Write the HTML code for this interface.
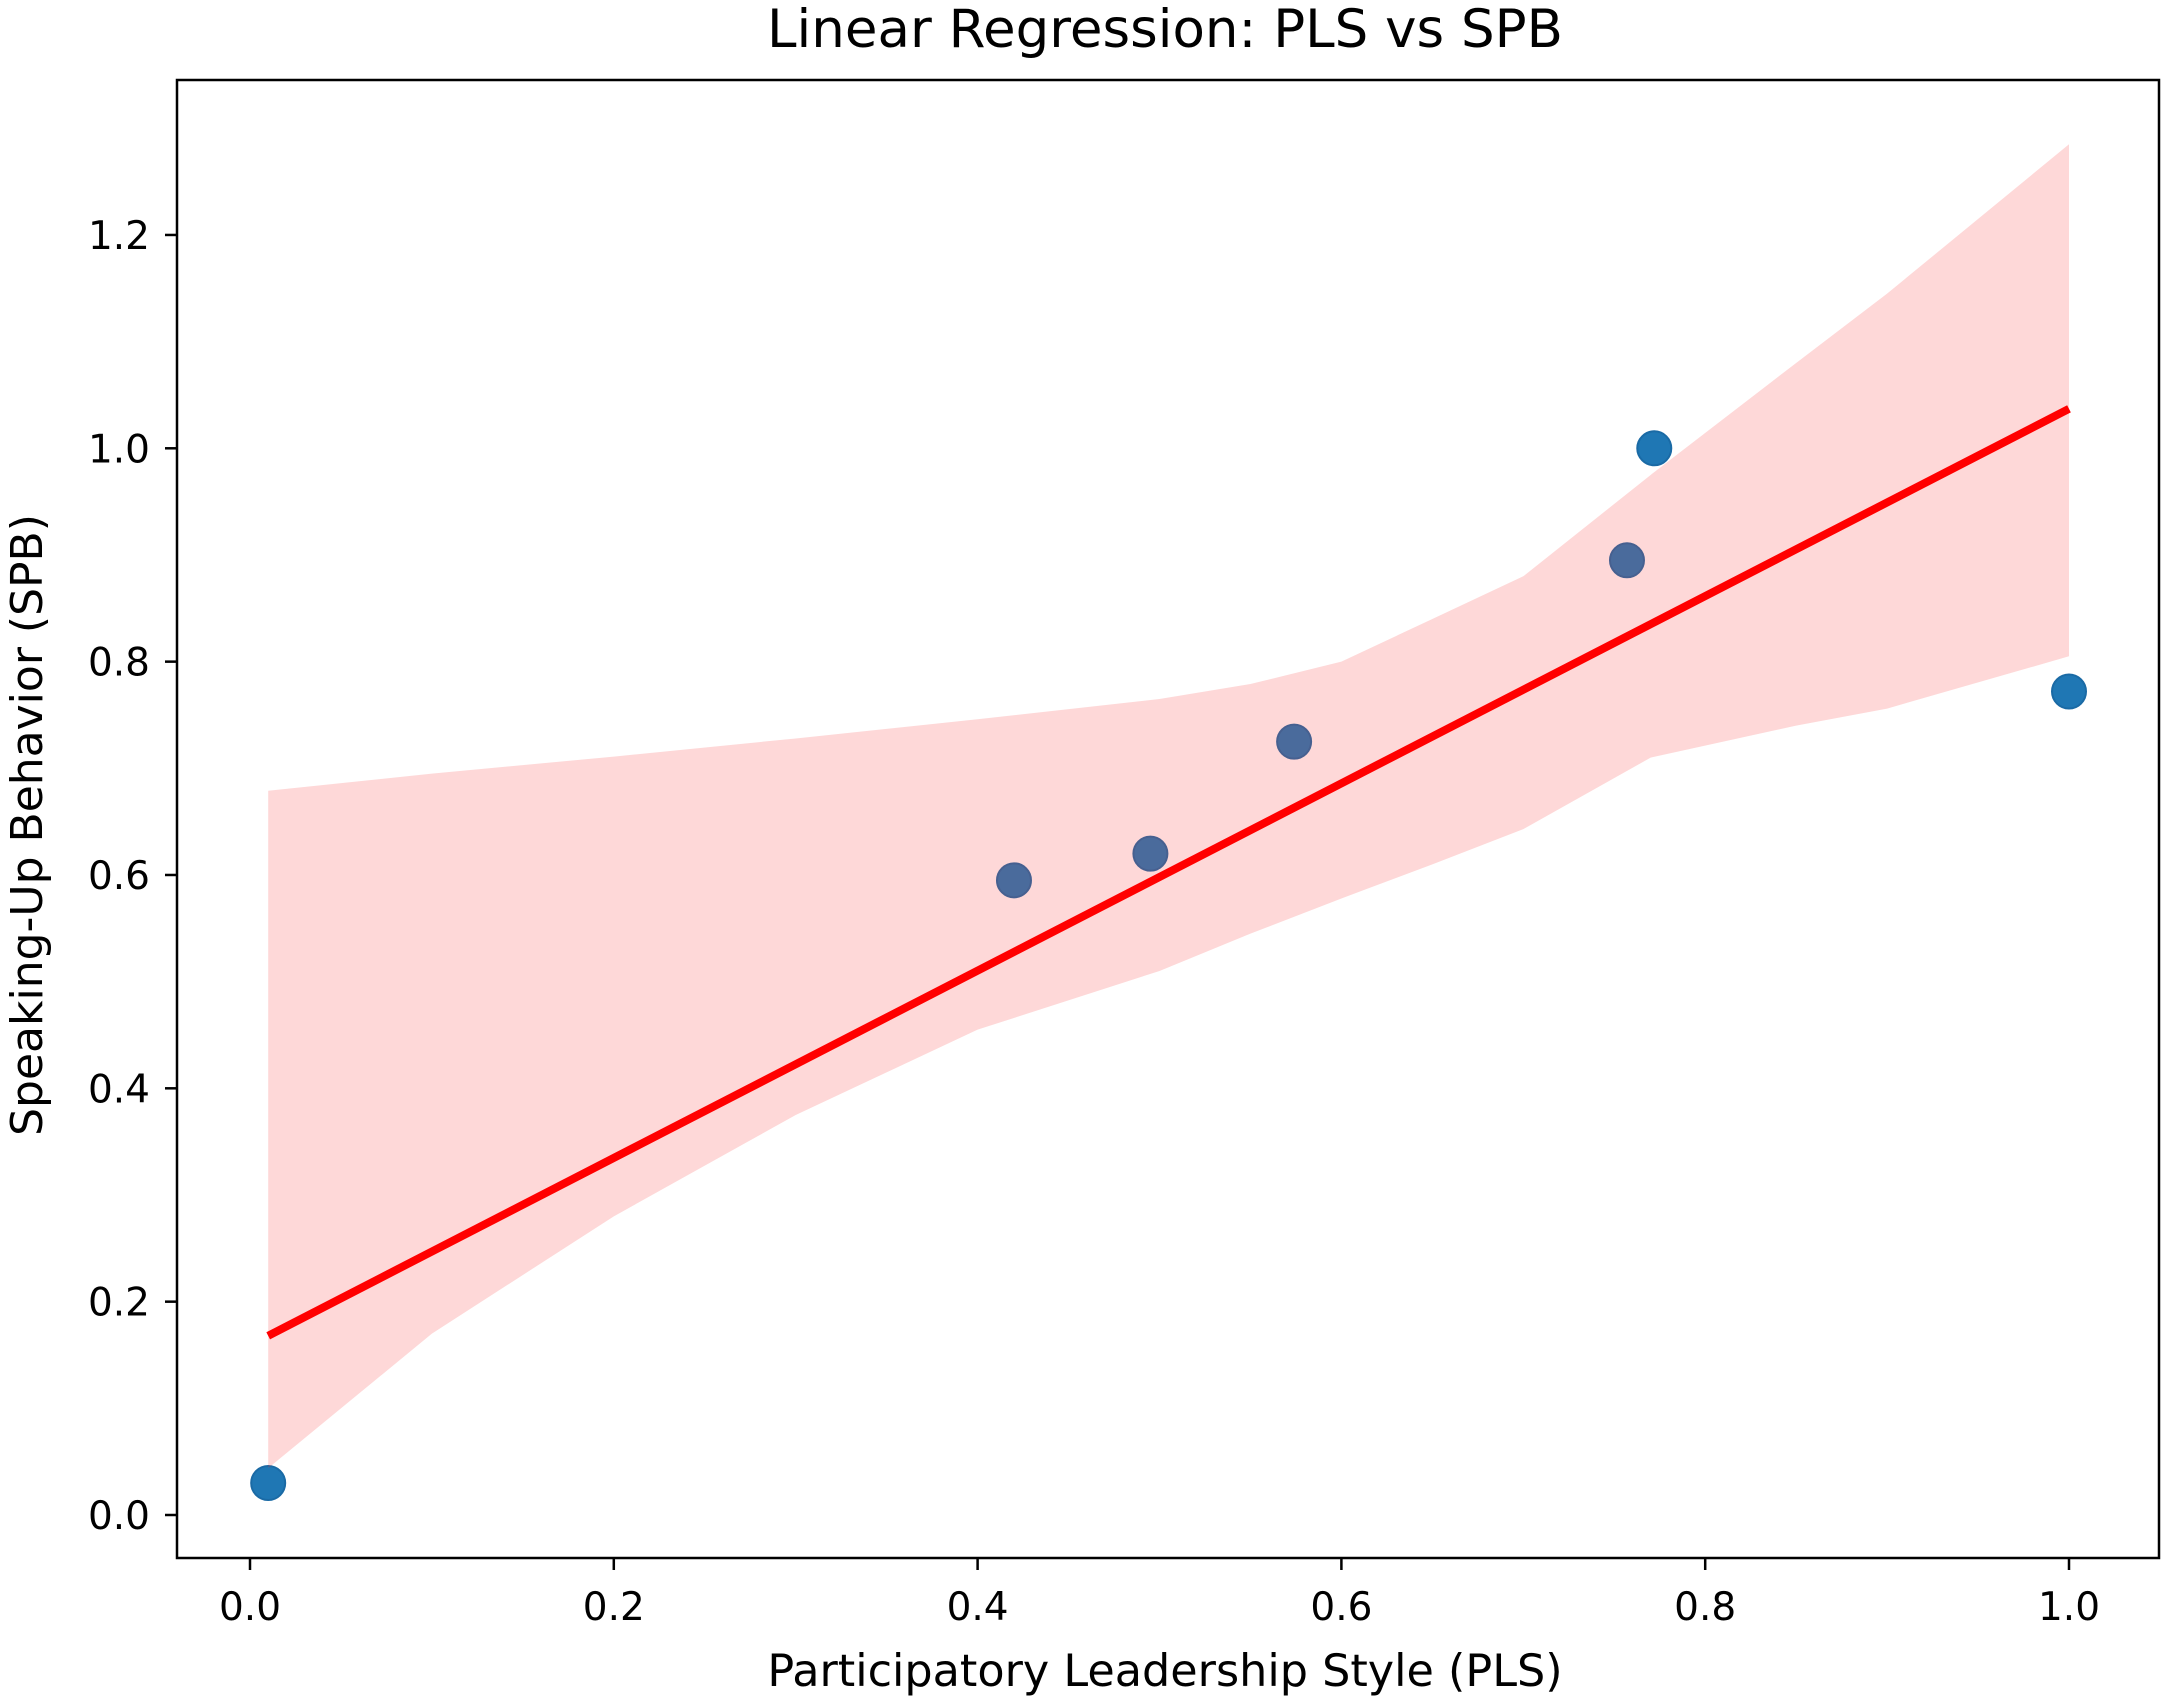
<!DOCTYPE html>
<html><head><meta charset="utf-8"><style>
html,body{margin:0;padding:0;background:#fff;}
svg{display:block;font-family:"DejaVu Sans","Liberation Sans",sans-serif;}
</style></head><body>
<svg id="chart" width="2167" height="1705" viewBox="0 0 2167 1705">
<text x="1165" y="47" font-size="53" text-anchor="middle">Linear Regression: PLS vs SPB</text>
<g id="plot"></g>
<rect x="177" y="80" width="1982" height="1478" fill="none" stroke="#000" stroke-width="2.5"/>
<text x="1165" y="1686" font-size="44.5" text-anchor="middle">Participatory Leadership Style (PLS)</text>
<text transform="translate(42,825) rotate(-90)" font-size="44" text-anchor="middle">Speaking-Up Behavior (SPB)</text>
</svg>
<script>
const pointsX = [0.01, 0.42, 0.495, 0.574, 0.757, 0.772, 1.0];
const pointsY = [0.03, 0.595, 0.62, 0.725, 0.895, 1.0, 0.772];
const fitX = [0.01, 1.0];
const fitY = [0.168, 1.037];
const bandX = [0.01, 0.1, 0.2, 0.3, 0.4, 0.5, 0.55, 0.6, 0.65, 0.7, 0.77, 0.85, 0.9, 1.0];
const bandUpper = [0.679, 0.695, 0.711, 0.728, 0.746, 0.765, 0.779, 0.80, 0.84, 0.88, 0.975, 1.08, 1.145, 1.285];
const bandLower = [0.044, 0.17, 0.28, 0.375, 0.455, 0.51, 0.545, 0.578, 0.61, 0.643, 0.71, 0.74, 0.756, 0.805];
const xTicks = [0.0, 0.2, 0.4, 0.6, 0.8, 1.0];
const xTickLabels = ["0.0", "0.2", "0.4", "0.6", "0.8", "1.0"];
const yTicks = [0.0, 0.2, 0.4, 0.6, 0.8, 1.0, 1.2];
const yTickLabels = ["0.0", "0.2", "0.4", "0.6", "0.8", "1.0", "1.2"];

const NS = "http://www.w3.org/2000/svg";
const sx = v => 250 + v * 1819;
const sy = v => 1515 - v * 1066.7;
const svg = document.getElementById('chart');
const plot = document.getElementById('plot');
function mk(tag, attrs, parent) {
  const e = document.createElementNS(NS, tag);
  for (const k in attrs) e.setAttribute(k, attrs[k]);
  (parent || plot).appendChild(e);
  return e;
}
pointsX.forEach((x, i) => {
  const c = mk('circle', {cx: sx(x), cy: sy(pointsY[i]), r: 17, fill: '#1f77b4', stroke: '#1a6aa5', 'stroke-width': 2});
  
  
});
let d = bandX.map((x, i) => (i ? 'L' : 'M') + sx(x) + ',' + sy(bandUpper[i])).join(' ');
for (let i = bandX.length - 1; i >= 0; i--) d += ' L' + sx(bandX[i]) + ',' + sy(bandLower[i]);
const band = mk('path', {d: d + ' Z', fill: 'rgba(250,60,60,0.2)', 'stroke-linejoin': 'round'});


const line = mk('line', {x1: sx(fitX[0]), y1: sy(fitY[0]), x2: sx(fitX[1]), y2: sy(fitY[1]), stroke: '#ff0000', 'stroke-width': 8});


xTicks.forEach((v, i) => {
  const t = mk('line', {x1: sx(v), x2: sx(v), y1: 1558, y2: 1570, stroke: '#000', 'stroke-width': 2.5}, svg);
  
  
  const l = mk('text', {x: sx(v), y: 1620, 'font-size': 39, 'text-anchor': 'middle'}, svg);
  l.textContent = xTickLabels[i];
  
  
});
yTicks.forEach((v, i) => {
  const t = mk('line', {x1: 165, x2: 177, y1: sy(v), y2: sy(v), stroke: '#000', 'stroke-width': 2.5}, svg);
  
  
  const l = mk('text', {x: 150, y: sy(v) + 14, 'font-size': 39, 'text-anchor': 'end'}, svg);
  l.textContent = yTickLabels[i];
  
  
});
</script>
</body></html>
